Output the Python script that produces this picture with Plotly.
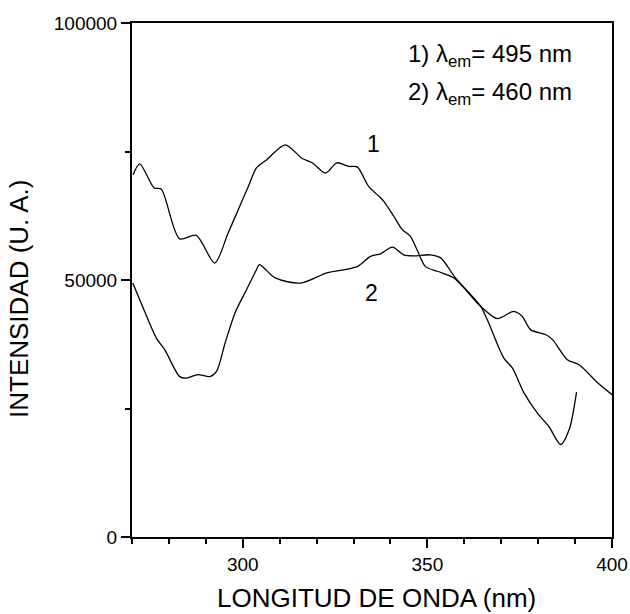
import plotly.graph_objects as go

# Curve 1 (lambda_em = 495 nm)
wl_1 = [270.3, 272.1, 276.0, 277.9, 282.9, 287.4, 292.4, 296.0, 298.8, 301.5, 303.7,
        306.5, 311.5, 316.0, 318.8, 322.4, 325.5, 328.7, 331.0, 334.1, 337.3, 338.2,
        340.9, 343.2, 345.4, 347.2, 349.5, 352.7, 357.2, 364.4, 368.9, 373.4, 375.7,
        378.0, 382.0, 383.9, 387.9, 391.1, 396.1, 400.0]
int_1 = [70500, 72600, 67900, 67700, 58000, 58700, 53300, 59100, 63700, 68200, 71800,
         73400, 76300, 73700, 72800, 70800, 72800, 72100, 72000, 68200, 66000, 65300,
         62400, 59800, 58500, 55900, 52600, 51700, 50400, 44900, 42500, 43900, 42900,
         40300, 39400, 38400, 34500, 33500, 30000, 27700]

# Curve 2 (lambda_em = 460 nm)
wl_2 = [270.2, 273.0, 276.6, 278.9, 282.9, 284.7, 287.9, 291.1, 292.9, 295.2, 297.9,
        301.0, 303.7, 304.5, 308.8, 315.6, 322.8, 331.0, 334.6, 337.3, 340.5, 343.6,
        346.3, 350.8, 353.6, 357.6, 364.4, 366.2, 370.7, 373.0, 376.2, 379.8, 382.9,
        386.1, 388.4, 390.4]
int_2 = [49400, 44600, 38700, 36400, 31200, 30900, 31600, 31200, 32200, 37700, 43600,
         48100, 52000, 53000, 50400, 49400, 51400, 52600, 54600, 55100, 56400, 54900,
         54700, 54900, 54300, 50400, 44900, 42300, 34800, 32900, 28000, 24100, 21500,
         18000, 20900, 28200]

FONT = "Arial, Liberation Sans, sans-serif"

fig = go.Figure()
for xs, ys in [(wl_1, int_1), (wl_2, int_2)]:
    fig.add_trace(go.Scatter(x=xs, y=ys, mode="lines",
                             line=dict(color="black", width=1.3, shape="spline", smoothing=0.8),
                             showlegend=False, hoverinfo="skip"))

fig.update_layout(
    width=630, height=614,
    margin=dict(l=132, r=18, t=23, b=77),
    paper_bgcolor="white", plot_bgcolor="white",
    font=dict(family=FONT, color="black", size=19),
)
fig.update_xaxes(range=[270, 400], tick0=0, dtick=50, ticks="outside", ticklen=9, tickwidth=1.5,
                 tickcolor="black", showline=True, linecolor="black", linewidth=2, mirror=True,
                 showgrid=False, zeroline=False, automargin=False, tickfont=dict(size=19, family=FONT),
                 minor=dict(dtick=10, ticklen=5, tickwidth=1.5, tickcolor="black", ticks="outside",
                            showgrid=False))
fig.update_yaxes(range=[0, 100000], tick0=0, dtick=50000, ticks="outside", ticklen=9, tickwidth=1.5,
                 tickcolor="black", showline=True, linecolor="black", linewidth=2, mirror=True,
                 showgrid=False, zeroline=False, automargin=False, tickformat="d",
                 tickfont=dict(size=19, family=FONT),
                 minor=dict(dtick=25000, ticklen=5, tickwidth=1.5, tickcolor="black", ticks="outside",
                            showgrid=False))

anns = [
    dict(text="LONGITUD DE ONDA (nm)", x=376, y=598, size=26, angle=0),
    dict(text="INTENSIDAD (U. A.)", x=19, y=299, size=26, angle=-90),
]
for a in anns:
    fig.add_annotation(text=a["text"], xref="paper", yref="paper",
                       x=(a["x"] - 132) / 480, y=1 - (a["y"] - 23) / 514,
                       xanchor="center", yanchor="middle", showarrow=False,
                       textangle=a["angle"], font=dict(size=a["size"], family=FONT))

fig.add_annotation(text="1) λ<sub>em</sub>= 495 nm", x=389.8, y=93600, xref="x", yref="y",
                   xanchor="right", yanchor="middle", showarrow=False, font=dict(size=24))
fig.add_annotation(text="2) λ<sub>em</sub>= 460 nm", x=389.8, y=86200, xref="x", yref="y",
                   xanchor="right", yanchor="middle", showarrow=False, font=dict(size=24))
fig.add_annotation(text="1", x=335.4, y=76500, xref="x", yref="y", showarrow=False, font=dict(size=23))
fig.add_annotation(text="2", x=334.9, y=47400, xref="x", yref="y", showarrow=False, font=dict(size=23))

fig.write_html("out.html")
